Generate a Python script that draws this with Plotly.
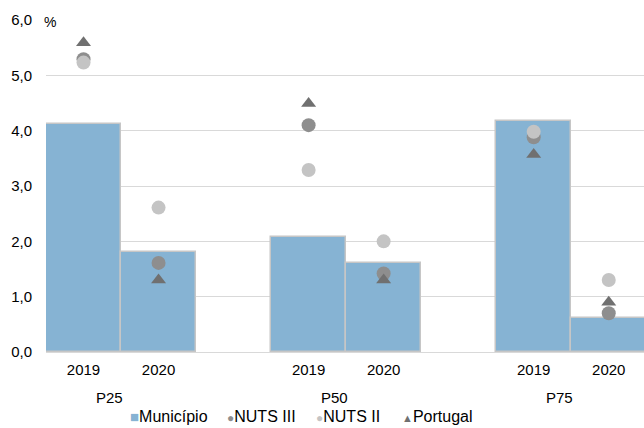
import plotly.graph_objects as go

groups = ["P25", "P50", "P75"]
years = ["2019", "2020"]
positions = [0, 1, 3, 4, 6, 7]
municipio = [4.12, 1.81, 2.08, 1.61, 4.18, 0.62]
nuts3 = [5.29, 1.61, 4.10, 1.42, 3.88, 0.70]
nuts2 = [5.23, 2.61, 3.29, 2.00, 3.98, 1.30]
portugal = [5.59, 1.30, 4.49, 1.30, 3.57, 0.90]
y_ticks = [0, 1, 2, 3, 4, 5, 6]
y_ticktext = ["0,0", "1,0", "2,0", "3,0", "4,0", "5,0", "6,0"]
legend_names = ["Município", "NUTS III", "NUTS II", "Portugal"]

BAR = "#86B3D3"
C3 = "#8E8E8E"
C2 = "#C4C4C4"
CP = "#707070"
FONT = "Liberation Sans, Arial, sans-serif"
FS = 15

fig = go.Figure()
fig.add_trace(go.Bar(x=positions, y=municipio, width=1.0,
                     marker=dict(color=BAR, line=dict(color="#C6C6C6", width=1.5)), showlegend=False))
fig.add_trace(go.Scatter(x=positions, y=nuts3, mode="markers",
                         marker=dict(symbol="circle", size=14, color=C3), showlegend=False))
fig.add_trace(go.Scatter(x=positions, y=nuts2, mode="markers",
                         marker=dict(symbol="circle", size=14, color=C2), showlegend=False))
fig.add_trace(go.Scatter(x=positions, y=portugal, mode="markers",
                         marker=dict(symbol="triangle-up", size=13, color=CP), showlegend=False))

ticktext = [y for g in groups for y in years]
for i, g in enumerate(groups):
    fig.add_annotation(x=positions[2 * i] + 0.34, y=0, xref="x", yref="paper", text=g,
                       showarrow=False, yanchor="middle", yshift=-45, font=dict(size=FS, color="#000"))
fig.add_annotation(x=0, y=1, xref="paper", yref="paper", text="%", showarrow=False,
                   xanchor="left", yanchor="middle", xshift=-4, yshift=-2, font=dict(size=FS - 1, color="#000"))

# custom legend (manual row under the chart)
plot_l, plot_r = 46, 0
plot_w = 644 - plot_l - plot_r
legend_rel = [82, 179, 268, 354]  # offsets from plot left edge
legend_syms = [
    f"<span style='color:{BAR};font-size:15px'>■</span>",
    f"<span style='color:{C3};font-size:12px'>●</span>",
    f"<span style='color:{C2};font-size:12px'>●</span>",
    f"<span style='color:{CP};font-size:11px'>▲</span>",
]
for off, sym, name in zip(legend_rel, legend_syms, legend_names):
    fig.add_annotation(x=off / plot_w, y=0, xref="paper", yref="paper",
                       text=sym + name, showarrow=False, xanchor="left", yanchor="middle",
                       yshift=-64, font=dict(size=16, color="#000"))

fig.update_layout(
    width=644, height=428,
    margin=dict(l=plot_l, r=plot_r, t=20, b=76),
    paper_bgcolor="white", plot_bgcolor="white",
    font=dict(family=FONT, size=FS, color="#000"),
    bargap=0, showlegend=False,
    xaxis=dict(range=[-0.5, 7.47], tickvals=positions, ticktext=ticktext, showgrid=False, zeroline=False,
               showline=False, ticks="", tickfont=dict(size=FS), automargin=False, ticklabelstandoff=7),
    yaxis=dict(range=[0, 6], tickvals=y_ticks, ticktext=y_ticktext, showgrid=True, gridcolor="#D9D9D9",
               gridwidth=1, zeroline=True, zerolinecolor="#D9D9D9", zerolinewidth=1, ticks="",
               tickfont=dict(size=FS), automargin=False, ticklabelstandoff=13),
)
fig.write_html("out.html", config={"displayModeBar": False},
               post_script="document.body.style.margin='0px';")
